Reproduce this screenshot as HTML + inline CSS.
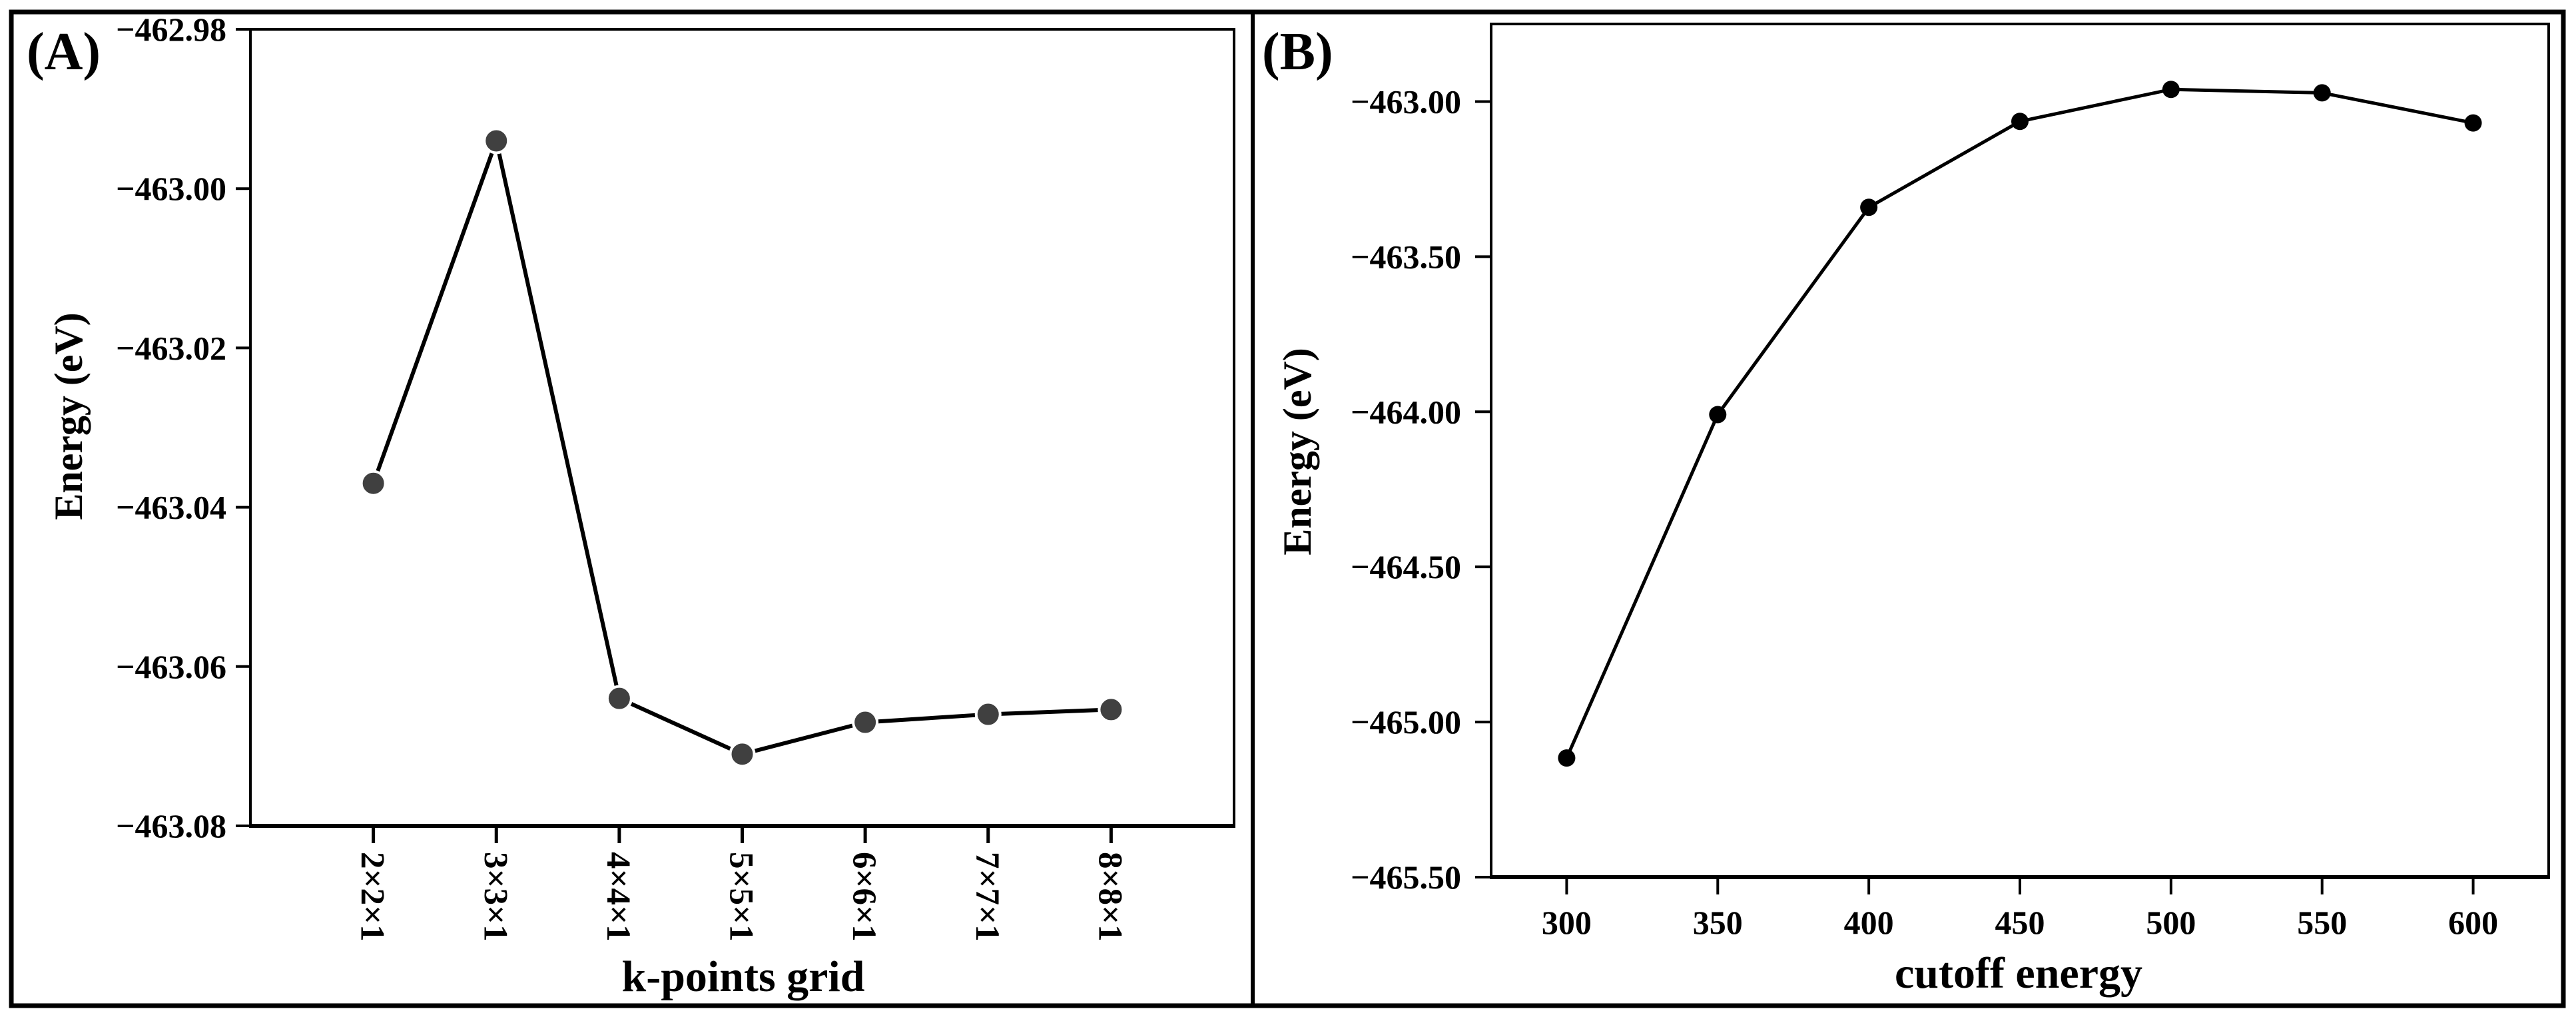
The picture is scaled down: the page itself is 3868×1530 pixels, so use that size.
<!DOCTYPE html>
<html><head><meta charset="utf-8">
<style>
html,body{margin:0;padding:0;background:#fff;}
svg{display:block;}
text{font-family:"Liberation Serif",serif;font-weight:bold;fill:#000;}
</style></head>
<body>
<svg id="fig" width="3868" height="1530" viewBox="0 0 3868 1530" xmlns="http://www.w3.org/2000/svg">
  <rect x="17" y="18" width="3832" height="1492" fill="none" stroke="#000" stroke-width="7"/>
  <line x1="1881" y1="18" x2="1881" y2="1510" stroke="#000" stroke-width="6"/>
  <g id="panelA"></g>
  <g id="panelB"></g>
</svg>
<script>
// Panel A data
const catsA = ["2×2×1","3×3×1","4×4×1","5×5×1","6×6×1","7×7×1","8×8×1"];
const valsA = [-463.037,-462.994,-463.064,-463.071,-463.067,-463.066,-463.0654];
const ticksA = [-462.98,-463.00,-463.02,-463.04,-463.06,-463.08];
const tickLabelsA = ["−462.98","−463.00","−463.02","−463.04","−463.06","−463.08"];
// Panel B data
const catsB = [300,350,400,450,500,550,600];
const valsB = [-465.116,-464.009,-463.341,-463.064,-462.961,-462.972,-463.069];
const ticksB = [-463.00,-463.50,-464.00,-464.50,-465.00,-465.50];
const tickLabelsB = ["−463.00","−463.50","−464.00","−464.50","−465.00","−465.50"];

const NS="http://www.w3.org/2000/svg";
function mk(parent,tag,attrs,txt){const e=document.createElementNS(NS,tag);for(const k in attrs)e.setAttribute(k,attrs[k]);if(txt!==undefined)e.textContent=txt;parent.appendChild(e);return e;}

// ---- Panel A ----
(function(){
  const g=document.getElementById('panelA');
  const L=376,R=1853,T=44,B=1240;
  const xA=i=>L+(i+1)/8*(R-L);
  const yA=v=>T+(-462.98-v)/0.10*(B-T);
  const frame=mk(g,'rect',{x:L,y:T,width:R-L,height:B-T,fill:'none',stroke:'#000','stroke-width':4});
  
  
  const bax=mk(g,'line',{x1:L-2,y1:B,x2:R+2,y2:B,stroke:'#000','stroke-width':6});
  
  
  ticksA.forEach((v,i)=>{
    const t=mk(g,'line',{x1:L-22,y1:yA(v),x2:L,y2:yA(v),stroke:'#000','stroke-width':4});
    
    
    const tl=mk(g,'text',{x:340,y:yA(v)+17,'text-anchor':'end','font-size':50},tickLabelsA[i]);
    
    
  });
  catsA.forEach((c,i)=>{
    const t=mk(g,'line',{x1:xA(i),y1:B,x2:xA(i),y2:B+26,stroke:'#000','stroke-width':5});
    
    
    const tl=mk(g,'text',{x:0,y:0,'font-size':51,transform:`translate(${xA(i)-18},1279) rotate(90)`},c);
    
    
  });
  const pts=valsA.map((v,i)=>xA(i)+','+yA(v)).join(' ');
  const pl=mk(g,'polyline',{points:pts,fill:'none',stroke:'#000','stroke-width':6,'stroke-linejoin':'round'});
  
  
  valsA.forEach((v,i)=>{
    const c=mk(g,'circle',{cx:xA(i),cy:yA(v),r:18,fill:'#404040',stroke:'#fff','stroke-width':4});
    
    
  });
  const yt=mk(g,'text',{x:0,y:0,'text-anchor':'middle','font-size':60,transform:'translate(123,625) rotate(-90)'},'Energy (eV)');
  
  
  const xt=mk(g,'text',{x:1116,y:1488,'text-anchor':'middle','font-size':66},'k-points grid');
  
  
  const pa=mk(g,'text',{x:40,y:104,'font-size':80},'(A)');
  
  
})();

// ---- Panel B ----
(function(){
  const g=document.getElementById('panelB');
  const L=2239,R=3827,T=36,B=1317;
  const xB=v=>L+(v-275)/350*(R-L);
  const yB=v=>T+(-462.75-v)/2.75*(B-T);
  const frame=mk(g,'rect',{x:L,y:T,width:R-L,height:B-T,fill:'none',stroke:'#000','stroke-width':4});
  
  
  const bax=mk(g,'line',{x1:L-2,y1:B,x2:R+2,y2:B,stroke:'#000','stroke-width':6});
  
  
  ticksB.forEach((v,i)=>{
    const t=mk(g,'line',{x1:L-24,y1:yB(v),x2:L,y2:yB(v),stroke:'#000','stroke-width':4});
    
    
    const tl=mk(g,'text',{x:2194,y:yB(v)+17,'text-anchor':'end','font-size':50},tickLabelsB[i]);
    
    
  });
  catsB.forEach((c,i)=>{
    const t=mk(g,'line',{x1:xB(c),y1:B,x2:xB(c),y2:B+26,stroke:'#000','stroke-width':4});
    
    
    const tl=mk(g,'text',{x:xB(c),y:1402,'text-anchor':'middle','font-size':50},String(c));
    
    
  });
  const pts=valsB.map((v,i)=>xB(catsB[i])+','+yB(v)).join(' ');
  const pl=mk(g,'polyline',{points:pts,fill:'none',stroke:'#000','stroke-width':5,'stroke-linejoin':'round'});
  
  
  valsB.forEach((v,i)=>{
    const c=mk(g,'circle',{cx:xB(catsB[i]),cy:yB(v),r:13,fill:'#000'});
    
    
  });
  const yt=mk(g,'text',{x:0,y:0,'text-anchor':'middle','font-size':60,transform:'translate(1968,678) rotate(-90)'},'Energy (eV)');
  
  
  const xt=mk(g,'text',{x:3031,y:1483,'text-anchor':'middle','font-size':66},'cutoff energy');
  
  
  const pb=mk(g,'text',{x:1895,y:104,'font-size':80},'(B)');
  
  
})();
</script>
</body></html>
